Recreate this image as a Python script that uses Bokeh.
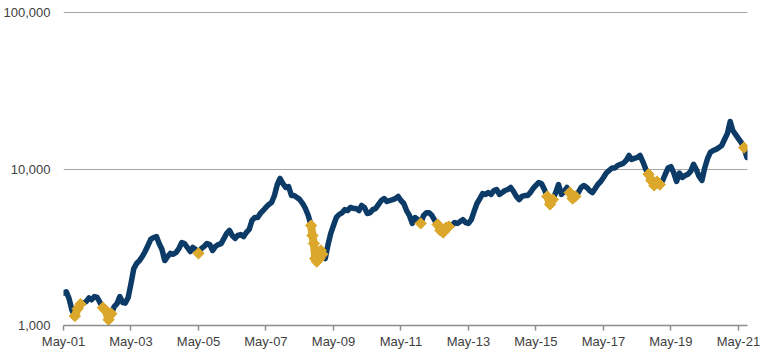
import math
import pandas as pd
from bokeh.plotting import figure
from bokeh.models import Range1d, FixedTicker, NumeralTickFormatter, DatetimeTickFormatter
from bokeh.embed import file_html
from bokeh.resources import INLINE

# Monthly index levels (first of month), starting May 2001
START = "2001-05-01"
v2001 = [1610, 1640, 1480, 1250, 1150, 1280, 1370, 1390]
v2002 = [1420, 1500, 1460, 1530, 1510, 1400, 1300, 1250, 1090, 1190, 1320, 1380]
v2003 = [1530, 1400, 1390, 1510, 1850, 2310, 2490, 2600, 2760, 2970, 3245, 3550]
v2004 = [3650, 3700, 3340, 3060, 2600, 2760, 2890, 2850, 2930, 3100, 3390, 3340]
v2005 = [3150, 2970, 3150, 3060, 2890, 3100, 3200, 3340, 3290, 3015, 3200, 3290]
v2006 = [3340, 3600, 3870, 4050, 3760, 3600, 3760, 3810, 3700, 3930, 4110, 4690]
v2007 = [4900, 4900, 5200, 5430, 5680, 5940, 6110, 6770, 7960, 8700, 8060, 7620]
v2008 = [7730, 6770, 6770, 6580, 6380, 6020, 5600, 5046, 4355, 3340, 2560, 2680]
v2009 = [2850, 2680, 3245, 3870, 4355, 4900, 5120, 5250, 5500, 5430, 5680, 5600]
v2010 = [5600, 5430, 5850, 5680, 5200, 5250, 5500, 5600, 5940, 6290, 6470, 6200]
v2011 = [6290, 6380, 6470, 6680, 6290, 6020, 5430, 5046, 4490, 4900, 4750, 4490]
v2012 = [5046, 5250, 5250, 5046, 4690, 4420, 4050, 3930, 4220, 4290, 4355, 4550]
v2013 = [4490, 4620, 4750, 4550, 4490, 4750, 5360, 6020, 6470, 6960, 6880, 7070]
v2014 = [6880, 7290, 7400, 6880, 7070, 7290, 7400, 7620, 7180, 6680, 6380, 6680]
v2015 = [6770, 6770, 7070, 7510, 7850, 8200, 8060, 7400, 6680, 5940, 6380, 7070]
v2016 = [7960, 6880, 7180, 7620, 7070, 6470, 6680, 7070, 7620, 7850, 7620, 7290]
v2017 = [7070, 7510, 7960, 8320, 8830, 9430, 9780, 10150, 10150, 10530, 10700, 10870]
v2018 = [11330, 12200, 11510, 11680, 11850, 12200, 11160, 10000, 9260, 8450, 7850, 8320]
v2019 = [7960, 8450, 9260, 10150, 10360, 9430, 8320, 9430, 8830, 9090, 9260, 9660]
v2020 = [10700, 9900, 8960, 8450, 10150, 11680, 12780, 13130, 13350, 13700, 14130, 15430]
v2021 = [16830, 20130, 17620, 16600, 15640, 14740, 13700, 11850]

# Extra mid-month readings during the 2008 sell-off
extra_dates = ["2008-09-15", "2008-10-15", "2008-11-15", "2008-12-15"]
extra_values = [3760, 2680, 2800, 3015]

# Highlighted (gold) periods
gold_periods = [
    ("2001-09-01", "2001-11-01"),
    ("2002-07-01", "2002-10-01"),
    ("2005-05-01", "2005-05-01"),
    ("2008-09-01", "2009-01-01"),
    ("2011-12-01", "2011-12-01"),
    ("2012-06-01", "2012-10-01"),
    ("2015-09-01", "2015-11-01"),
    ("2016-05-01", "2016-07-01"),
    ("2018-09-01", "2019-01-01"),
    ("2021-07-01", "2021-07-01"),
]

x_tick_years = [2001, 2003, 2005, 2007, 2009, 2011, 2013, 2015, 2017, 2019, 2021]
y_tick_values = [1000, 10000, 100000]

NAVY = "#0b3b66"
GOLD = "#dba82b"
FONT = "Liberation Sans"
TEXT = "#404040"

values = (v2001 + v2002 + v2003 + v2004 + v2005 + v2006 + v2007 + v2008 + v2009 + v2010
          + v2011 + v2012 + v2013 + v2014 + v2015 + v2016 + v2017 + v2018 + v2019 + v2020 + v2021)
dates = pd.date_range(START, periods=len(values), freq="MS")
df = pd.DataFrame({"date": dates, "value": values})
df = pd.concat([df, pd.DataFrame({"date": pd.to_datetime(extra_dates), "value": extra_values})])
df = df.sort_values("date").reset_index(drop=True)
df["ms"] = [t.value / 1e6 for t in df["date"]]

p = figure(width=770, height=353, x_axis_type="datetime", y_axis_type="log",
           output_backend="svg", toolbar_location=None,
           x_range=Range1d(pd.Timestamp("2001-05-01").value / 1e6, pd.Timestamp("2021-08-07").value / 1e6),
           y_range=Range1d(1000, 101500),
           min_border_left=61, min_border_right=23, min_border_top=11, min_border_bottom=28)
p.outline_line_color = None
p.background_fill_color = "white"
p.border_fill_color = "white"

p.line(x=list(df["ms"]), y=list(df["value"]), line_color=NAVY, line_width=5.5,
       line_join="round", line_cap="round")

for a, b in gold_periods:
    seg = df[(df["date"] >= pd.Timestamp(a)) & (df["date"] <= pd.Timestamp(b))]
    sx = [float(v) for v in seg["ms"]]
    sy = [float(v) for v in seg["value"]]
    if len(sx) > 1:
        p.line(x=sx, y=sy, line_color=GOLD, line_width=8, line_join="round", line_cap="round")
    p.scatter(x=sx, y=sy, marker="square", angle=math.pi / 4, size=8,
              fill_color=GOLD, line_color=GOLD)

# y axis
p.yaxis.ticker = FixedTicker(ticks=y_tick_values)
p.yaxis.formatter = NumeralTickFormatter(format="0,0")
p.yaxis.axis_line_color = None
p.yaxis.major_tick_line_color = None
p.yaxis.minor_tick_line_color = None
p.yaxis.major_label_standoff = 7
p.yaxis.major_label_text_font = FONT
p.yaxis.major_label_text_font_size = "13px"
p.yaxis.major_label_text_color = TEXT

# x axis
ticks_ms = [pd.Timestamp(f"{y}-05-01").value / 1e6 for y in x_tick_years]
p.xaxis.ticker = FixedTicker(ticks=ticks_ms)
p.xaxis.formatter = DatetimeTickFormatter(years="%b-%y", months="%b-%y", days="%b-%y",
                                          hours="%b-%y", minutes="%b-%y")
p.xaxis.axis_line_color = "#8c8c8c"
p.xaxis.axis_line_width = 1.5
p.xaxis.major_tick_line_color = "#8c8c8c"
p.xaxis.major_tick_line_width = 1.5
p.xaxis.major_tick_out = 5
p.xaxis.major_tick_in = 0
p.xaxis.minor_tick_line_color = None
p.xaxis.major_label_standoff = 3
p.xaxis.major_label_text_font = FONT
p.xaxis.major_label_text_font_size = "13px"
p.xaxis.major_label_text_color = TEXT

p.xgrid.grid_line_color = None
p.ygrid.ticker = FixedTicker(ticks=y_tick_values)
p.ygrid.grid_line_color = "#a6a6a6"
p.ygrid.grid_line_width = 1

open("out.html", "w").write(file_html(p, INLINE))
